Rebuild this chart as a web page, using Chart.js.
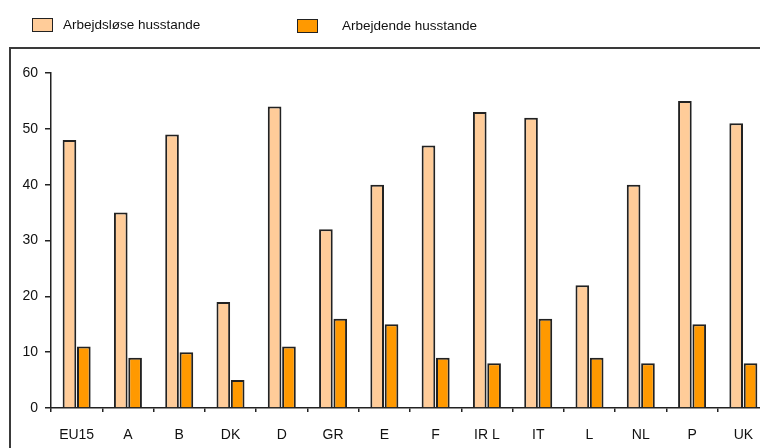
<!DOCTYPE html>
<html>
<head>
<meta charset="utf-8">
<script src="https://cdn.jsdelivr.net/npm/chart.js@4.4.0/dist/chart.umd.min.js"></script>
<style>
  html, body { margin: 0; padding: 0; background: #fff; overflow: hidden; }
  #wrap { position: relative; width: 760px; height: 448px; overflow: hidden; font-family: "Liberation Sans", Arial, sans-serif; }
  #frame { position: absolute; left: 9px; top: 47px; width: 800px; height: 500px; border: 2px solid #3a3a3a; box-sizing: border-box; }
  #chart { position: absolute; left: 0; top: 0; }
  .leg { position: absolute; font-size: 13.5px; color: #111; display: flex; align-items: center; }
  .leg span.box { display: inline-block; width: 19px; height: 12px; border: 1.5px solid #222; margin-right: 10px; }
</style>
</head>
<body>
<div id="wrap">
  <div id="frame"></div>
  <canvas id="chart" width="790" height="448"></canvas>
  <div class="leg" id="leg0" style="left:32px;top:17px"></div>
  <div class="leg" id="leg1" style="left:297px;top:18px"></div>
</div>
<script>
const countries = ['EU15', 'A', 'B', 'DK', 'D', 'GR', 'E', 'F', 'IRL', 'IT', 'L', 'NL', 'P', 'UK'];
const tickLabels = ['EU15', 'A', 'B', 'DK', 'D', 'GR', 'E', 'F', 'IR L', 'IT', 'L', 'NL', 'P', 'UK'];
const seriesNames = ['Arbejdsløse husstande', 'Arbejdende husstande'];
const unemployed = [48, 35, 49, 19, 54, 32, 40, 47, 53, 52, 22, 40, 55, 51];
const employed = [11, 9, 10, 5, 11, 16, 15, 9, 8, 16, 9, 8, 15, 8];
const colors = ['#ffcc99', '#ff9900'];

// legend in html so it sits where the original one does
seriesNames.forEach((n, i) => {
  const el = document.getElementById('leg' + i);
  el.innerHTML = `<span class="box" style="background:${colors[i]}"></span>${i === 1 ? '<span style="margin-left:14px">' + n + '</span>' : n}`;
});

const font = { family: '"Liberation Sans", Arial, sans-serif', size: 14 };

new Chart(document.getElementById('chart').getContext('2d'), {
  type: 'bar',
  data: {
    labels: tickLabels,
    datasets: [
      { label: seriesNames[0], data: unemployed, backgroundColor: colors[0], borderColor: '#222', borderWidth: 2 },
      { label: seriesNames[1], data: employed, backgroundColor: colors[1], borderColor: '#222', borderWidth: 2 }
    ]
  },
  options: {
    responsive: false,
    animation: false,
    categoryPercentage: 0.56,
    barPercentage: 0.95,
    layout: { padding: { top: 73, right: 21, left: 0, bottom: 0 } },
    plugins: { legend: { display: false }, tooltip: { enabled: false } },
    scales: {
      x: {
        grid: { drawOnChartArea: false, drawTicks: true, tickLength: 4, color: '#222', lineWidth: 1.5 },
        border: { display: true, color: '#222', width: 1.5 },
        ticks: { color: '#111', font: font, padding: 15, maxRotation: 0, autoSkip: false },
        afterFit: s => { s.height = 40; }
      },
      y: {
        min: 0, max: 60,
        grid: { drawOnChartArea: false, drawTicks: true, tickLength: 6, color: '#222', lineWidth: 1.5 },
        border: { display: true, color: '#222', width: 1.5 },
        ticks: { stepSize: 10, color: '#111', font: font, padding: 7 },
        afterFit: s => { s.width = 51; }
      }
    }
  }
});
</script>
</body>
</html>
